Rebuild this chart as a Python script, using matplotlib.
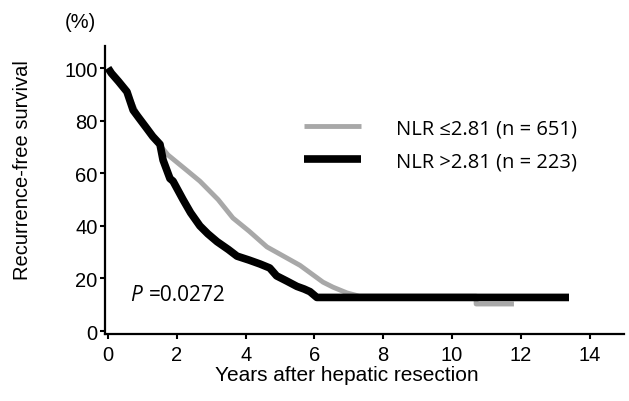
import numpy as np
import matplotlib.pyplot as plt

# Kaplan-Meier curves (years, % recurrence-free)
t_low = [0, 0.3, 0.55, 0.9, 1.3, 1.74, 2.3, 2.67, 3.2, 3.63, 4.1, 4.62, 5.1, 5.58,
         6.25, 6.54, 6.95, 7.3, 10.7, 10.7, 11.8]
s_low = [100, 95, 91, 81, 74, 67, 61, 57, 50, 43, 38, 32, 28.5, 25,
         18.6, 16.7, 14.5, 13.3, 13.3, 10.3, 10.3]

t_high = [0, 0.1, 0.3, 0.55, 0.73, 0.9, 1.13, 1.3, 1.51, 1.6, 1.8, 1.89, 2.18, 2.4,
          2.67, 2.9, 3.17, 3.5, 3.75, 4.1, 4.42, 4.7, 4.9, 5.2, 5.49, 5.7, 5.87,
          6.07, 13.4]
s_high = [100, 98, 95, 91, 84, 81, 77, 74, 71, 65, 58, 57, 50, 45,
          40, 37, 34, 31, 28.5, 27, 25.5, 24, 21, 19, 17, 16, 15,
          12.8, 12.8]

label_low = 'NLR \u22642.81 (n = 651)'
label_high = 'NLR >2.81 (n = 223)'

plt.rcParams['font.family'] = ['Liberation Sans', 'DejaVu Sans']

fig = plt.figure(figsize=(6.29, 4.02), dpi=100)
ax = fig.add_axes([0.1663, 0.1667, 0.8258, 0.7164])

ax.plot(t_low, s_low, color='#a8a8a8', lw=3.5, label=label_low, solid_capstyle='butt')
ax.plot(t_high, s_high, color='black', lw=5.5, label=label_high, solid_capstyle='butt')

ax.set_xlim(-0.1, 15)
ax.set_ylim(-1.1, 108.4)
ax.set_xticks(np.arange(0, 15, 2))
ax.set_yticks(np.arange(0, 101, 20))
for s in ['top', 'right']:
    ax.spines[s].set_visible(False)
for s in ['left', 'bottom']:
    ax.spines[s].set_linewidth(1.6)
ax.tick_params(direction='out', length=3.6, width=1.5, labelsize=14.5)
ax.tick_params(axis='x', pad=4.5)
ax.tick_params(axis='y', pad=1.5)

ax.set_xlabel('Years after hepatic resection', fontsize=15)
ax.set_ylabel('Recurrence-free survival', fontsize=14.5)
ax.xaxis.set_label_coords(0.4667, -0.139)
ax.xaxis.label.set_va('center')
ax.yaxis.set_label_coords(-0.158, 0.573)
ax.yaxis.label.set_va('center')
fig.text(65 / 629, 1 - 23 / 402, '(%)', fontsize=14.5, ha='left', va='center')

ax.text(0.64, 14, 'P', fontsize=15, style='italic', ha='left', va='center',
        family=['Open Sans', 'DejaVu Sans'])
ax.text(1.18, 14, '=0.0272', fontsize=15, ha='left', va='center',
        family=['Open Sans', 'DejaVu Sans'])

ax.legend(loc='upper left', bbox_to_anchor=(294 / 629, 1 - 109 / 402),
          bbox_transform=fig.transFigure, frameon=False, borderpad=0,
          handlelength=2.83, handletextpad=1.74, labelspacing=0.65,
          prop={'family': ['Open Sans', 'DejaVu Sans'], 'size': 14.5})

fig.savefig('out.png', dpi=100)
